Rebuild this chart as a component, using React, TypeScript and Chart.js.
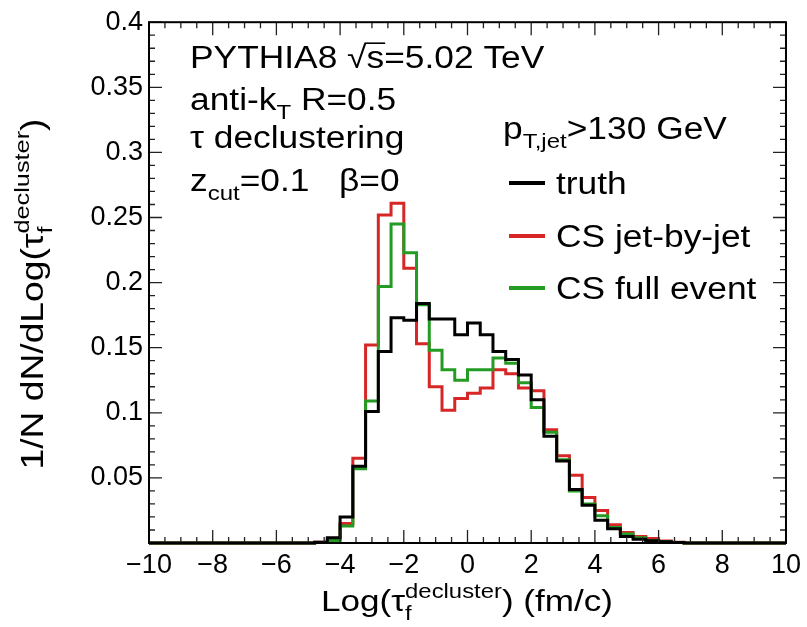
import React, { useEffect, useRef } from 'react';
import { Chart, registerables } from 'chart.js';
Chart.register(...registerables);

// Histogram binning: 50 bins of width 0.4 from -10 to 10
const BIN_LO = -10;
const BIN_WIDTH = 0.4;

const TRUTH = [
  0, 0, 0, 0, 0, 0, 0, 0, 0, 0, 0, 0, 0,
  0.0005, 0.004, 0.020, 0.059, 0.101, 0.147, 0.173, 0.171, 0.184, 0.172,
  0.172, 0.160, 0.169, 0.160, 0.147, 0.141, 0.129, 0.110, 0.082, 0.063,
  0.041, 0.029, 0.0175, 0.011, 0.005, 0.0028, 0.0018, 0.001, 0.0004,
  0, 0, 0, 0, 0, 0, 0, 0,
];

const CS_JET_BY_JET = [
  0, 0, 0, 0, 0, 0, 0, 0, 0, 0, 0, 0, 0,
  0.0005, 0.003, 0.015, 0.065, 0.152, 0.252, 0.261, 0.211, 0.153, 0.120,
  0.102, 0.111, 0.115, 0.119, 0.133, 0.130, 0.119, 0.117, 0.087, 0.067,
  0.052, 0.035, 0.025, 0.014, 0.008, 0.005, 0.0035, 0.0015, 0.0006,
  0, 0, 0, 0, 0, 0, 0, 0,
];

const CS_FULL_EVENT = [
  0, 0, 0, 0, 0, 0, 0, 0, 0, 0, 0, 0, 0,
  0.0003, 0.002, 0.013, 0.057, 0.109, 0.197, 0.245, 0.223, 0.183, 0.148,
  0.133, 0.125, 0.133, 0.133, 0.142, 0.138, 0.123, 0.104, 0.085, 0.064,
  0.040, 0.030, 0.021, 0.012, 0.007, 0.004, 0.002, 0.001, 0.0004,
  0, 0, 0, 0, 0, 0, 0, 0,
];

const SERIES_LABELS = ['truth', 'CS jet-by-jet', 'CS full event'];
const SERIES_COLORS = ['#000000', 'rgb(214,38,38)', 'rgb(36,156,36)'];

const X_MIN = -10, X_MAX = 10, X_MAJOR = 2, X_MINOR = 0.5;
const Y_MIN = 0, Y_MAX = 0.4, Y_MAJOR = 0.05, Y_MINOR = 0.01;

const FAMILY = '"Liberation Sans", Arial, Helvetica, sans-serif';

type Seg = { t: string; sub?: string; sup?: string; over?: boolean };

function rich(
  ctx: CanvasRenderingContext2D, segs: Seg[], x: number, y: number,
  size: number, sx: number, draw: boolean,
): number {
  let cx = x;
  const put = (txt: string, px: number, py: number) => {
    ctx.save();
    ctx.translate(px, py);
    ctx.scale(sx, 1);
    ctx.fillText(txt, 0, 0);
    ctx.restore();
  };
  for (const s of segs) {
    ctx.font = `${size}px ${FAMILY}`;
    if (s.t) {
      const w = ctx.measureText(s.t).width * sx;
      if (draw) {
        put(s.t, cx, y);
        if (s.over) {
          ctx.save();
          ctx.lineWidth = 1.6;
          ctx.beginPath();
          ctx.moveTo(cx - 2, y - size * 0.8);
          ctx.lineTo(cx + w + 1, y - size * 0.8);
          ctx.stroke();
          ctx.restore();
        }
      }
      cx += w;
    }
    const small = size * 0.68;
    ctx.font = `${small}px ${FAMILY}`;
    let w2 = 0;
    if (s.sub) {
      w2 = Math.max(w2, ctx.measureText(s.sub).width * sx);
      if (draw) put(s.sub, cx, y + size * 0.3);
    }
    if (s.sup) {
      w2 = Math.max(w2, ctx.measureText(s.sup).width * sx);
      if (draw) put(s.sup, cx, y - size * 0.45);
    }
    cx += w2;
  }
  return cx - x;
}

const fmtX = (v: number) => (v < 0 ? '\u2212' + String(Math.abs(v)) : String(v));
const fmtY = (v: number) => (Math.abs(v) < 1e-9 ? '' : String(+v.toFixed(2)));

export default function App() {
  const ref = useRef<HTMLCanvasElement>(null);

  useEffect(() => {
    const canvas = ref.current!;
    const toPoints = (vals: number[]) => {
      const pts = vals.map((v, i) => ({ x: BIN_LO + i * BIN_WIDTH, y: v }));
      pts.push({ x: BIN_LO + vals.length * BIN_WIDTH, y: vals[vals.length - 1] });
      return pts;
    };
    const allSeries = [TRUTH, CS_JET_BY_JET, CS_FULL_EVENT];
    const drawOrder = [0, 2, 1];

    const decor = {
      id: 'decor',
      afterDraw(chart: any) {
        const ctx: CanvasRenderingContext2D = chart.ctx;
        const { left, right, top, bottom } = chart.chartArea;
        const xs = chart.scales.x;
        const ys = chart.scales.y;
        ctx.save();
        // ticks
        ctx.strokeStyle = '#222';
        ctx.lineWidth = 1.3;
        ctx.beginPath();
        const nx = Math.round((X_MAX - X_MIN) / X_MINOR);
        for (let k = 0; k <= nx; k++) {
          const v = X_MIN + k * X_MINOR;
          const px = xs.getPixelForValue(v);
          const major = Math.abs(v / X_MAJOR - Math.round(v / X_MAJOR)) < 1e-6;
          const len = major ? 13 : 6;
          ctx.moveTo(px, bottom); ctx.lineTo(px, bottom - len);
          ctx.moveTo(px, top); ctx.lineTo(px, top + len);
        }
        const ny = Math.round((Y_MAX - Y_MIN) / Y_MINOR);
        for (let k = 0; k <= ny; k++) {
          const v = Y_MIN + k * Y_MINOR;
          const py = ys.getPixelForValue(v);
          const major = k % Math.round(Y_MAJOR / Y_MINOR) === 0;
          const len = major ? 13 : 6;
          ctx.moveTo(left, py); ctx.lineTo(left + len, py);
          ctx.moveTo(right, py); ctx.lineTo(right - len, py);
        }
        ctx.stroke();
        // frame
        ctx.strokeStyle = '#000';
        ctx.lineWidth = 2;
        ctx.strokeRect(left, top, right - left, bottom - top);

        // texts
        ctx.fillStyle = '#000';
        ctx.textBaseline = 'alphabetic';
        ctx.textAlign = 'left';
        const fs = 31;
        const sx = 1.14;
        rich(ctx, [{ t: 'PYTHIA8 ' }, { t: '\u221A' }, { t: 's', over: true }, { t: '=5.02 TeV' }], 190, 68, fs, sx, true);
        rich(ctx, [{ t: 'anti-k', sub: 'T' }, { t: ' R=0.5' }], 190, 110, fs, sx, true);
        rich(ctx, [{ t: '\u03C4 declustering' }], 190, 148, fs, sx, true);
        rich(ctx, [{ t: 'z', sub: 'cut' }, { t: '=0.1   \u03B2=0' }], 190, 191, fs, sx, true);
        rich(ctx, [{ t: 'p', sub: 'T,jet' }, { t: '>130 GeV' }], 503, 139, fs, sx, true);

        // legend
        const legY = [183, 236, 288];
        chart.data.datasets.forEach((ds: any, i: number) => {
          ctx.strokeStyle = ds.borderColor;
          ctx.lineWidth = 4;
          ctx.beginPath();
          ctx.moveTo(509, legY[i]);
          ctx.lineTo(545, legY[i]);
          ctx.stroke();
          ctx.fillStyle = '#000';
          rich(ctx, [{ t: ds.label }], 556, legY[i] + 11, fs, sx, true);
        });

        // x title
        const xt: Seg[] = [{ t: 'Log(' }, { t: '\u03C4', sub: 'f', sup: 'decluster' }, { t: ') (fm/c)' }];
        const tsz = 30;
        const wx = rich(ctx, xt, 0, 0, tsz, 1.17, false);
        rich(ctx, xt, 467 - wx / 2, 611, tsz, 1.17, true);

        // y title
        const yt: Seg[] = [{ t: '1/N dN/dLog(' }, { t: '\u03C4', sub: 'f', sup: 'decluster' }, { t: ')' }];
        const wy = rich(ctx, yt, 0, 0, 31, 1.2, false);
        ctx.translate(43, 294);
        ctx.rotate(-Math.PI / 2);
        rich(ctx, yt, -wy / 2, 0, 31, 1.2, true);
        ctx.restore();
      },
    };

    const chart = new Chart(canvas, {
      type: 'line',
      data: {
        datasets: SERIES_LABELS.map((label, i) => ({
          label,
          data: toPoints(allSeries[i]),
          borderColor: SERIES_COLORS[i],
          backgroundColor: SERIES_COLORS[i],
          borderWidth: 3,
          stepped: true,
          pointRadius: 0,
          fill: false,
          tension: 0,
          clip: false as any,
          order: drawOrder[i],
          borderJoinStyle: 'miter',
        })),
      },
      options: {
        responsive: false,
        animation: false,
        devicePixelRatio: 1,
        layout: { padding: { top: 18, right: 17, left: 0, bottom: 0 } },
        plugins: { legend: { display: false }, tooltip: { enabled: false } },
        scales: {
          x: {
            type: 'linear',
            min: X_MIN,
            max: X_MAX,
            grid: { display: false, drawTicks: false },
            border: { display: false },
            ticks: {
              stepSize: X_MAJOR,
              autoSkip: false,
              maxRotation: 0,
              padding: 6,
              color: '#000',
              font: { family: FAMILY, size: 27 },
              callback: (v: any) => fmtX(Number(v)),
            },
            afterFit: (s: any) => { s.height = 84; },
          },
          y: {
            type: 'linear',
            min: Y_MIN,
            max: Y_MAX,
            grid: { display: false, drawTicks: false },
            border: { display: false },
            ticks: {
              stepSize: Y_MAJOR,
              autoSkip: false,
              padding: 6,
              color: '#000',
              font: { family: FAMILY, size: 27 },
              callback: (v: any) => fmtY(Number(v)),
            },
            afterFit: (s: any) => { s.width = 149; },
          },
        },
      },
      plugins: [decor],
    });
    return () => chart.destroy();
  }, []);

  return (
    <canvas
      ref={ref}
      width={807}
      height={627}
      style={{ position: 'fixed', left: 0, top: 0, width: 807, height: 627, background: '#fff' }}
    />
  );
}
